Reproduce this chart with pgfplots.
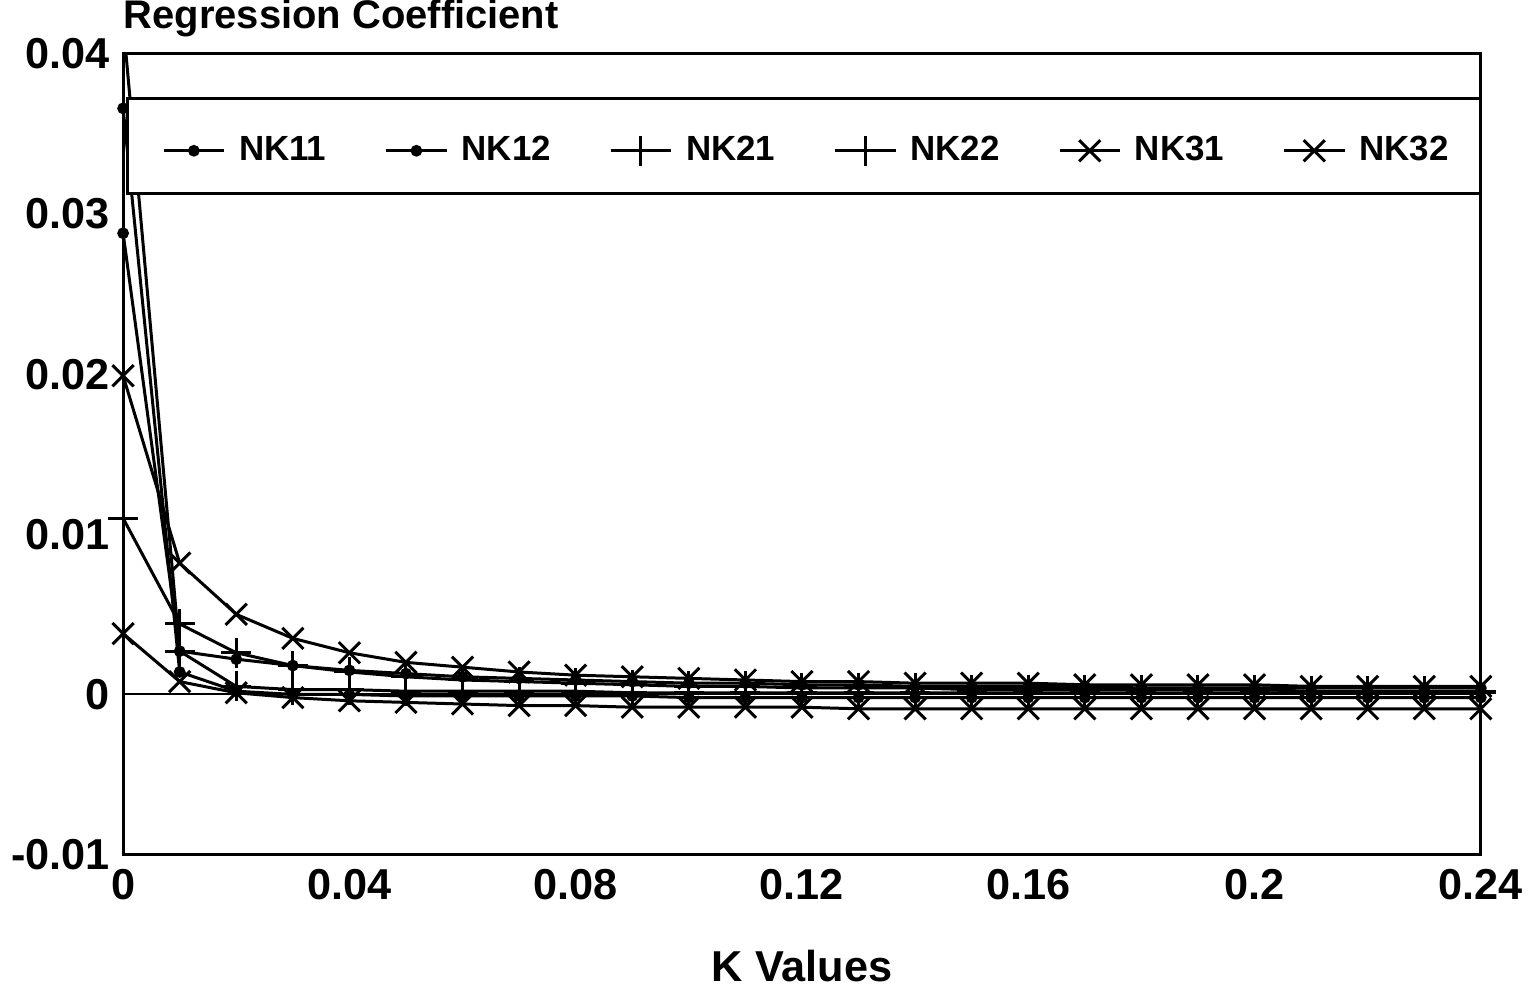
\documentclass[border=0pt]{standalone}
\usepackage{fontspec}
\setmainfont{Liberation Sans}
\usepackage{pgfplots}
\usepackage{pgfplotstable}
\pgfplotsset{compat=1.18}

% ridge trace: regression coefficients against K
\pgfplotstableread{
k     nka     nkb     nkc     nkd     nke     nkf
0.00  0.0288  0.0366  0.0110  0.0420  0.0199  0.0038
0.01  0.0027  0.0014  0.0044  0.0027  0.0082  0.0008
0.02  0.0022  0.0002  0.0026  0.0005  0.0050  0.0001
0.03  0.0018  0.0000  0.0018  0.0003  0.0035  -0.0002
0.04  0.0015  0.0000  0.0014  0.0003  0.0026  -0.0004
0.05  0.0013  -0.0001 0.0011  0.0002  0.0020  -0.0005
0.06  0.0011  -0.0001 0.0009  0.0002  0.0017  -0.0006
0.07  0.0010  -0.0001 0.0008  0.0002  0.0014  -0.0007
0.08  0.0009  -0.0001 0.0007  0.0002  0.0012  -0.0007
0.09  0.0008  -0.0001 0.0006  0.0001  0.0011  -0.0008
0.10  0.0007  -0.0002 0.0005  0.0001  0.0010  -0.0008
0.11  0.0007  -0.0002 0.0005  0.0001  0.0009  -0.0008
0.12  0.0006  -0.0002 0.0004  0.0001  0.0008  -0.0008
0.13  0.0006  -0.0002 0.0004  0.0001  0.0008  -0.0009
0.14  0.0005  -0.0002 0.0004  0.0001  0.0007  -0.0009
0.15  0.0005  -0.0002 0.0003  0.0001  0.0007  -0.0009
0.16  0.0005  -0.0002 0.0003  0.0001  0.0007  -0.0009
0.17  0.0005  -0.0002 0.0003  0.0001  0.0006  -0.0009
0.18  0.0004  -0.0002 0.0003  0.0001  0.0006  -0.0009
0.19  0.0004  -0.0002 0.0003  0.0001  0.0006  -0.0009
0.20  0.0004  -0.0002 0.0003  0.0001  0.0006  -0.0009
0.21  0.0004  -0.0002 0.0002  0.0001  0.0005  -0.0009
0.22  0.0004  -0.0002 0.0002  0.0001  0.0005  -0.0009
0.23  0.0004  -0.0002 0.0002  0.0001  0.0005  -0.0009
0.24  0.0004  -0.0002 0.0002  0.0001  0.0005  -0.0009
}\ridge

\begin{document}
\begin{tikzpicture}
\begin{axis}[
    scale only axis,
    width=408pt, height=240.6pt,
    xmin=0, xmax=0.24, ymin=-0.01, ymax=0.04,
    scaled x ticks=false, scaled y ticks=false,
    axis line style={line width=0.9pt},
    xtick={0,0.04,0.08,0.12,0.16,0.2,0.24},
    xticklabels={0,0.04,0.08,0.12,0.16,0.2,0.24},
    ytick={-0.01,0,0.01,0.02,0.03,0.04},
    yticklabels={-0.01,0,0.01,0.02,0.03,0.04},
    major tick length=0pt,
    tick label style={font=\fontsize{13}{15}\selectfont\bfseries},
    /pgf/number format/assume math mode=true,
    xticklabel style={yshift=-0.8pt},
    yticklabel style={xshift=-0.5pt},
    xlabel={K Values},
    xlabel style={font=\fontsize{13}{15}\selectfont\bfseries, yshift=-8.3pt},
    clip mode=individual,
    every axis plot/.append style={black, line width=0.9pt},
    legend columns=6,
    legend style={draw=none, fill=none, at={(0.505,0.879)}, anchor=center,
        font=\fontsize{10.5}{12}\selectfont\bfseries,
        /tikz/every odd column/.append style={column sep=2pt},
        /tikz/every even column/.append style={column sep=15.5pt}},
    legend image code/.code={
        \draw[mark repeat=2,mark phase=2] plot coordinates {(0cm,0cm) (0.32cm,0cm) (0.64cm,0cm)};},
  ]
  \addplot[mark=*, mark size=1.3pt] table[x=k, y=nka] {\ridge};
  \addplot[mark=*, mark size=1.3pt] table[x=k, y=nkb] {\ridge};
  \addplot[mark=+, mark size=4.5pt] table[x=k, y=nkc] {\ridge};
  \addplot[mark=+, mark size=4.5pt] table[x=k, y=nkd] {\ridge};
  \addplot[mark=x, mark size=4.5pt] table[x=k, y=nke] {\ridge};
  \addplot[mark=x, mark size=4.5pt] table[x=k, y=nkf] {\ridge};
  \addplot[forget plot, line width=0.6pt] coordinates {(0,0) (0.24,0)};
  \filldraw[fill=white, draw=black, line width=0.9pt]
    (axis cs:0.0007,0.0313) rectangle (axis cs:0.24,0.0372);
  \node[anchor=base west, font=\fontsize{12}{14}\selectfont\bfseries, inner sep=0pt]
    at (rel axis cs:0,1) [yshift=7.5pt] {Regression Coefficient};
  \legend{NK11,NK12,NK21,NK22,NK31,NK32}
\end{axis}
\end{tikzpicture}
\end{document}
